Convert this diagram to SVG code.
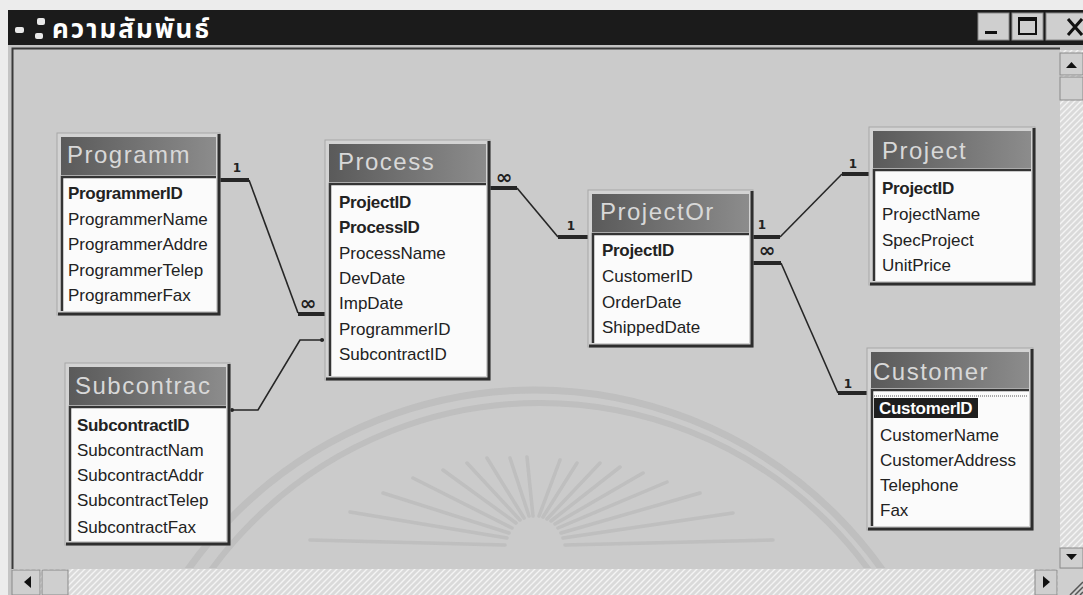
<svg xmlns="http://www.w3.org/2000/svg" width="1083" height="595" viewBox="0 0 1083 595">
  <defs>
    <linearGradient id="capGrad" x1="0" y1="0" x2="1" y2="0">
      <stop offset="0" stop-color="#5a5a5a"/>
      <stop offset="1" stop-color="#8c8c8c"/>
    </linearGradient>
    <pattern id="track" width="6" height="6" patternUnits="userSpaceOnUse">
      <rect width="6" height="6" fill="#dadada"/>
      <path d="M0 6 L6 0 M-1 1 L1 -1 M5 7 L7 5" stroke="#f4f4f4" stroke-width="1.4"/>
    </pattern>
    <clipPath id="clientClip"><rect x="13" y="49" width="1047" height="519"/></clipPath>
    <clipPath id="cProgrammer"><rect x="61" y="137" width="155" height="174"/></clipPath>
    <clipPath id="cProcess"><rect x="329" y="144" width="157" height="232"/></clipPath>
    <clipPath id="cOrder"><rect x="592" y="194" width="157" height="149"/></clipPath>
    <clipPath id="cProject"><rect x="873" y="131" width="158" height="150"/></clipPath>
    <clipPath id="cCustomer"><rect x="871" y="352" width="158" height="174"/></clipPath>
    <clipPath id="cSub"><rect x="69" y="367" width="157" height="174"/></clipPath>
  </defs>
  <style>
    .frame { fill: #d3d3d3; stroke: #a8a8a8; stroke-width: 1; }
    .shade { fill: none; stroke: #2e2e2e; stroke-width: 3; }
    .cap { fill: url(#capGrad); }
    .list { fill: #fbfbfb; }
    .inset { fill: none; stroke: #343434; stroke-width: 2.5; }
    .ttl { font-family: "Liberation Sans", Arial, sans-serif; font-size: 24px; fill: #d8d8d8; letter-spacing: 1.5px; }
    .fld { font-family: "Liberation Sans", Arial, sans-serif; font-size: 17px; fill: #222; }
    .key { font-weight: bold; letter-spacing: -0.3px; }
    .sel { fill: #fff; }
    .thick { fill: none; stroke: #262626; stroke-width: 4; }
    .thin { fill: none; stroke: #262626; stroke-width: 1.6; }
    .one { font-family: "DejaVu Sans", sans-serif; font-size: 12px; font-weight: bold; fill: #222; text-anchor: middle; }
    .many { font-family: "DejaVu Sans", sans-serif; font-size: 20px; font-weight: bold; fill: #222; text-anchor: middle; }
    .wm { fill: none; stroke: #b9b9b9; stroke-opacity: 0.7; }
    .btn { fill: #cfcfcf; stroke: #8a8a8a; stroke-width: 1; }
  </style>

  <!-- page and window frame -->
  <rect width="1083" height="595" fill="#ececec"/>
  <rect x="8" y="10" width="1075" height="585" fill="#c4c4c4"/>

  <!-- caption bar -->
  <g id="caption">
    <rect x="8" y="10" width="1075" height="35" fill="#1b1b1b"/>
    <rect x="15" y="27" width="9" height="6" rx="2" fill="#e8e8e8"/>
    <rect x="37" y="18" width="8" height="7" rx="2" fill="#e8e8e8"/>
    <rect x="35" y="33" width="8" height="6" rx="2" fill="#e8e8e8"/>
    <text x="52" y="38" font-family="'Noto Sans Thai', 'Noto Sans', 'DejaVu Sans', sans-serif" font-size="26" font-weight="bold" letter-spacing="2" fill="#ffffff">ความสัมพันธ์</text>
    <rect class="btn" x="978" y="13" width="31" height="27"/>
    <rect x="985" y="31" width="12" height="3" fill="#111"/>
    <rect class="btn" x="1012" y="13" width="31" height="27"/>
    <rect x="1019" y="18" width="17" height="16" fill="none" stroke="#111" stroke-width="2"/>
    <rect x="1019" y="18" width="17" height="3" fill="#111"/>
    <rect class="btn" x="1046" y="13" width="40" height="27"/>
    <path d="M1068 19 L1082 35 M1082 19 L1068 35" stroke="#111" stroke-width="3"/>
  </g>

  <!-- client area -->
  <rect x="12" y="48" width="1048" height="521" fill="#cbcbcb"/>
  <path d="M12.5 569 V48.5 H1060" fill="none" stroke="#3a3a3a" stroke-width="2"/>

  <!-- faint seal in the background -->
  <g id="backdrop" clip-path="url(#clientClip)">
    <circle class="wm" cx="535" cy="815" r="425" stroke-width="7"/>
    <circle class="wm" cx="540" cy="810" r="407" stroke-width="6"/>
    <g class="wm" stroke-width="3.5" stroke-linecap="round">
      <path d="M505 545 L310 540"/>
      <path d="M507 538 L350 512"/>
      <path d="M509 533 L383 493"/>
      <path d="M512 528 L413 478"/>
      <path d="M516 523 L443 470"/>
      <path d="M520 520 L467 463"/>
      <path d="M524 518 L487 458"/>
      <path d="M529 516 L510 458"/>
      <path d="M533 516 L527 457"/>
      <path d="M539 516 L560 460"/>
      <path d="M543 517 L577 463"/>
      <path d="M547 519 L600 463"/>
      <path d="M551 521 L620 467"/>
      <path d="M555 524 L643 473"/>
      <path d="M558 528 L667 482"/>
      <path d="M561 533 L700 493"/>
      <path d="M563 538 L733 513"/>
      <path d="M565 545 L773 540"/>
    </g>
  </g>

  <!-- scroll bars -->
  <g id="scrollbars">
    <rect x="1060" y="50" width="23" height="500" fill="url(#track)"/>
    <rect class="btn" x="1060" y="53" width="23" height="22"/>
    <path d="M1066 68 L1071.5 62 L1077 68 Z" fill="#111"/>
    <rect class="btn" x="1060" y="77" width="23" height="23"/>
    <rect class="btn" x="1060" y="548" width="23" height="20"/>
    <path d="M1066 554 L1077 554 L1071.5 560 Z" fill="#111"/>
    <rect x="12" y="569" width="1046" height="26" fill="url(#track)"/>
    <rect class="btn" x="12" y="570" width="28" height="25"/>
    <path d="M31 576 L24 582 L31 588 Z" fill="#111"/>
    <rect class="btn" x="42" y="570" width="26" height="25"/>
    <rect class="btn" x="1035" y="570" width="22" height="25"/>
    <path d="M1043 576 L1050 582 L1043 588 Z" fill="#111"/>
    <rect x="1058" y="569" width="25" height="26" fill="#cfcfcf"/>
    <path d="M1070 595 L1083 582 M1075 595 L1083 587 M1080 595 L1083 592" stroke="#555" stroke-width="1.5"/>
  </g>

  <!-- relationship lines -->
  <g id="connectors">
    <!-- Programmer 1 : many Process -->
    <path class="thick" d="M220 180 H249"/>
    <path class="thin" d="M249 180 L298 313"/>
    <path class="thick" d="M298 314 H325"/>
    <text class="one" x="237" y="172">1</text>
    <text class="many" x="308" y="310">∞</text>
    <!-- Subcontract to Process (not enforced) -->
    <path class="thin" d="M230 410 H258 L300 340 H324"/>
    <circle cx="232" cy="410" r="2" fill="#262626"/>
    <circle cx="322" cy="340" r="2" fill="#262626"/>
    <!-- Process many : 1 ProjectOrder -->
    <path class="thick" d="M490 188 H517"/>
    <path class="thin" d="M517 188 L558 237"/>
    <path class="thick" d="M558 237 H588"/>
    <text class="many" x="504" y="184">∞</text>
    <text class="one" x="571" y="230">1</text>
    <!-- ProjectOrder 1 : 1 Project -->
    <path class="thick" d="M753 237 H780"/>
    <path class="thin" d="M780 237 L842 174"/>
    <path class="thick" d="M842 174 H869"/>
    <text class="one" x="762" y="229">1</text>
    <text class="one" x="853" y="168">1</text>
    <!-- ProjectOrder many : 1 Customer -->
    <path class="thick" d="M753 263 H781"/>
    <path class="thin" d="M781 263 L838 393"/>
    <path class="thick" d="M838 393 H867"/>
    <text class="many" x="767" y="257">∞</text>
    <text class="one" x="848" y="388">1</text>
  </g>

  <!-- Programmer -->
  <g id="tbl-programmer">
    <rect class="frame" x="57" y="133" width="163" height="182"/>
    <path class="shade" d="M219 134 V314 H58"/>
    <rect class="cap" x="61" y="137" width="155" height="38"/>
    <rect class="list" x="61" y="176" width="155" height="135"/>
    <path class="inset" d="M62 311 V177 H216"/>
    <g clip-path="url(#cProgrammer)">
      <text class="ttl" x="67" y="163">Programm</text>
      <text class="fld key" x="68" y="199">ProgrammerID</text>
      <text class="fld" x="68" y="225">ProgrammerName</text>
      <text class="fld" x="68" y="250">ProgrammerAddre</text>
      <text class="fld" x="68" y="276">ProgrammerTelep</text>
      <text class="fld" x="68" y="301">ProgrammerFax</text>
    </g>
  </g>

  <!-- Process -->
  <g id="tbl-process">
    <rect class="frame" x="325" y="140" width="165" height="240"/>
    <path class="shade" d="M489 141 V379 H326"/>
    <rect class="cap" x="329" y="144" width="157" height="38"/>
    <rect class="list" x="329" y="183" width="157" height="193"/>
    <path class="inset" d="M330 376 V184 H486"/>
    <g clip-path="url(#cProcess)">
      <text class="ttl" x="338" y="170">Process</text>
      <text class="fld key" x="339" y="208">ProjectID</text>
      <text class="fld key" x="339" y="233">ProcessID</text>
      <text class="fld" x="339" y="259">ProcessName</text>
      <text class="fld" x="339" y="284">DevDate</text>
      <text class="fld" x="339" y="309">ImpDate</text>
      <text class="fld" x="339" y="335">ProgrammerID</text>
      <text class="fld" x="339" y="360">SubcontractID</text>
    </g>
  </g>

  <!-- ProjectOrder -->
  <g id="tbl-projectorder">
    <rect class="frame" x="588" y="190" width="165" height="157"/>
    <path class="shade" d="M752 191 V346 H589"/>
    <rect class="cap" x="592" y="194" width="157" height="38"/>
    <rect class="list" x="592" y="233" width="157" height="110"/>
    <path class="inset" d="M593 343 V234 H749"/>
    <g clip-path="url(#cOrder)">
      <text class="ttl" x="600" y="220">ProjectOr</text>
      <text class="fld key" x="602" y="256">ProjectID</text>
      <text class="fld" x="602" y="282">CustomerID</text>
      <text class="fld" x="602" y="308">OrderDate</text>
      <text class="fld" x="602" y="333">ShippedDate</text>
    </g>
  </g>

  <!-- Project -->
  <g id="tbl-project">
    <rect class="frame" x="869" y="127" width="166" height="158"/>
    <path class="shade" d="M1034 128 V284 H870"/>
    <rect class="cap" x="873" y="131" width="158" height="37"/>
    <rect class="list" x="873" y="169" width="158" height="112"/>
    <path class="inset" d="M874 281 V170 H1031"/>
    <g clip-path="url(#cProject)">
      <text class="ttl" x="882" y="159">Project</text>
      <text class="fld key" x="882" y="194">ProjectID</text>
      <text class="fld" x="882" y="220">ProjectName</text>
      <text class="fld" x="882" y="246">SpecProject</text>
      <text class="fld" x="882" y="271">UnitPrice</text>
    </g>
  </g>

  <!-- Customer -->
  <g id="tbl-customer">
    <rect class="frame" x="867" y="348" width="166" height="182"/>
    <path class="shade" d="M1032 349 V529 H868"/>
    <rect class="cap" x="871" y="352" width="158" height="36"/>
    <rect class="list" x="871" y="389" width="158" height="137"/>
    <path class="inset" d="M872 526 V390 H1029"/>
    <g clip-path="url(#cCustomer)">
      <text class="ttl" x="873" y="380">Customer</text>
      <path d="M874 396 H1028" stroke="#555" stroke-width="1" stroke-dasharray="1 1"/>
      <rect x="874" y="398" width="104" height="20" fill="#1e1e1e"/>
      <text class="fld key sel" x="879" y="414">CustomerID</text>
      <text class="fld" x="880" y="441">CustomerName</text>
      <text class="fld" x="880" y="466">CustomerAddress</text>
      <text class="fld" x="880" y="491">Telephone</text>
      <text class="fld" x="880" y="516">Fax</text>
    </g>
  </g>

  <!-- Subcontract -->
  <g id="tbl-subcontract">
    <rect class="frame" x="65" y="363" width="165" height="182"/>
    <path class="shade" d="M229 364 V544 H66"/>
    <rect class="cap" x="69" y="367" width="157" height="38"/>
    <rect class="list" x="69" y="406" width="157" height="135"/>
    <path class="inset" d="M70 541 V407 H226"/>
    <g clip-path="url(#cSub)">
      <text class="ttl" x="75" y="394">Subcontrac</text>
      <text class="fld key" x="77" y="431">SubcontractID</text>
      <text class="fld" x="77" y="456">SubcontractNam</text>
      <text class="fld" x="77" y="481">SubcontractAddr</text>
      <text class="fld" x="77" y="506">SubcontractTelep</text>
      <text class="fld" x="77" y="533">SubcontractFax</text>
    </g>
  </g>
</svg>
